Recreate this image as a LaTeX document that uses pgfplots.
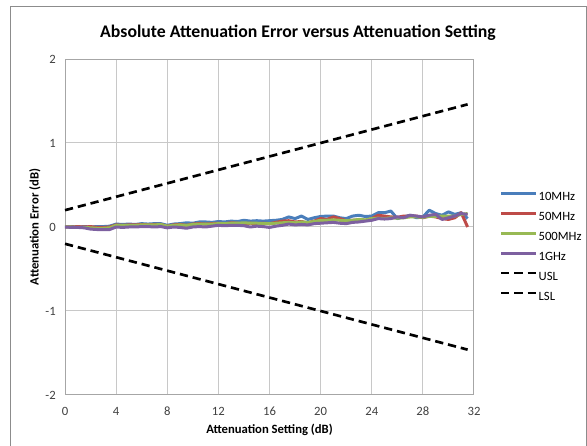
\documentclass[border=0pt]{standalone}
\usepackage{fontspec}
\setmainfont{Carlito}
\usepackage{pgfplots}
\usepackage{pgfplotstable}
\pgfplotsset{compat=1.18}

\definecolor{cten}{HTML}{4A7EBB}
\definecolor{cfifty}{HTML}{BE4B48}
\definecolor{cfive}{HTML}{98B954}
\definecolor{cone}{HTML}{7D60A0}
\definecolor{gridgray}{HTML}{C8C8C8}
\definecolor{axisgray}{HTML}{A6A6A6}
\definecolor{framegray}{HTML}{8C8C8C}
\definecolor{ticktext}{HTML}{404040}

% attenuation setting (dB) vs error (dB) at each frequency
\pgfplotstableread{
x    ten    fifty  five   one
0    0      0      0      0
0.5  0.005  0      0      -0.005
1    0      0.005  -0.005 -0.005
1.5  0.005  0      -0.005 -0.01
2    0      0.005  -0.01  -0.025
2.5  0.005  -0.005 -0.015 -0.03
3    0.005  -0.005 -0.015 -0.03
3.5  0.01   0      -0.01  -0.03
4    0.035  0.025  0.02   0
4.5  0.03   0.02   0.02   -0.005
5    0.035  0.025  0.02   0
5.5  0.03   0.025  0.02   0
6    0.04   0.03   0.025  0.005
6.5  0.035  0.025  0.025  0.005
7    0.04   0.03   0.025  0
7.5  0.04   0.03   0.03   0.005
8    0.02   0.01   0.01   -0.01
8.5  0.035  0.025  0.02   0
9    0.04   0.03   0.025  -0.005
9.5  0.05   0.02   0.02   -0.015
10   0.045  0.035  0.03   0
10.5 0.06   0.04   0.035  0.005
11   0.06   0.035  0.035  0
11.5 0.055  0.04   0.035  0.01
12   0.065  0.045  0.04   0.02
12.5 0.06   0.04   0.04   0.015
13   0.07   0.05   0.045  0.02
13.5 0.065  0.045  0.045  0.02
14   0.08   0.04   0.05   0.015
14.5 0.07   0.045  0.045  0
15   0.075  0.04   0.045  0.01
15.5 0.07   0.045  0.04   0.005
16   0.075  0.04   0.04   -0.005
16.5 0.08   0.055  0.045  0.01
17   0.09   0.07   0.05   0.02
17.5 0.12   0.075  0.055  0.035
18   0.1    0.06   0.05   0.025
18.5 0.13   0.065  0.06   0.03
19   0.09   0.05   0.055  0.025
19.5 0.11   0.07   0.065  0.04
20   0.125  0.1    0.08   0.045
20.5 0.13   0.09   0.08   0.05
21   0.13   0.12   0.085  0.055
21.5 0.11   0.1    0.08   0.045
22   0.1    0.075  0.075  0.04
22.5 0.13   0.08   0.08   0.055
23   0.14   0.085  0.09   0.06
23.5 0.125  0.08   0.085  0.07
24   0.13   0.1    0.1    0.08
24.5 0.17   0.14   0.105  0.1
25   0.17   0.13   0.1    0.095
25.5 0.19   0.12   0.11   0.1
26   0.1    0.115  0.105  0.12
26.5 0.12   0.13   0.11   0.11
27   0.14   0.13   0.12   0.14
27.5 0.11   0.13   0.12   0.13
28   0.12   0.11   0.115  0.12
28.5 0.2    0.13   0.125  0.14
29   0.16   0.12   0.125  0.15
29.5 0.14   0.1    0.13   0.09
30   0.18   0.09   0.13   0.11
30.5 0.15   0.11   0.13   0.13
31   0.17   0.17   0.15   0.16
31.5 0.1    0      0.16   0.15
}\errdata

\begin{document}
\begin{tikzpicture}[x=0.75pt,y=0.75pt]
\path[use as bounding box] (0,0) rectangle (587,446);
\draw[framegray, line width=0.75pt] (10,-5) -- (10,439) -- (586,439) -- (586,-5);
\node[font=\bfseries\fontsize{13.3}{16}\selectfont, text=black] at (298,413) {Absolute Attenuation Error versus Attenuation Setting};
\node[font=\bfseries\fontsize{9.5}{11}\selectfont, rotate=90] at (35,219) {Attenuation Error (dB)};
\node[font=\bfseries\fontsize{9.5}{11}\selectfont] at (269.5,16) {Attenuation Setting (dB)};

\begin{axis}[
    at={(48.75pt,38.25pt)}, anchor=south west,
    scale only axis,
    width=306.75pt, height=252pt,
    xmin=0, xmax=32,
    ymin=-2, ymax=2,
    xtick={0,4,...,32},
    ytick={-2,-1,0,1,2},
    grid=major,
    grid style={gridgray, line width=0.75pt},
    axis line style={axisgray, line width=0.75pt},
    major tick length=0pt,
    tick label style={font=\fontsize{9.5}{11}\selectfont, text=ticktext},
    /pgf/number format/assume math mode=true,
    xticklabel style={anchor=center, yshift=-12pt},
    yticklabel style={anchor=east, inner sep=0pt, xshift=-6.75pt},
    clip=false,
    legend style={at={(axis description cs:1.062,0.44)}, anchor=west,
        draw=none, fill=none, inner sep=0pt, row sep=6.4pt,
        font=\fontsize{9.5}{11}\selectfont,
        nodes={inner sep=0pt, inner xsep=1pt, text height=6.8pt, text depth=1.8pt}},
    legend cell align=left,
    legend image code/.code={\draw[#1] (0pt,3pt) -- (26pt,3pt);},
]
\addplot[cten, line width=2.25pt, line join=round] table[x=x, y=ten] {\errdata};
\addlegendentry{10MHz}
\addplot[cfifty, line width=2.25pt, line join=round] table[x=x, y=fifty] {\errdata};
\addlegendentry{50MHz}
\addplot[cfive, line width=2.25pt, line join=round] table[x=x, y=five] {\errdata};
\addlegendentry{500MHz}
\addplot[cone, line width=2.25pt, line join=round] table[x=x, y=one] {\errdata};
\addlegendentry{1GHz}
\addplot[black, line width=2pt, dash pattern=on 6.2pt off 3.7pt] coordinates {(0,0.2) (31.5,1.46)};
\addlegendentry{USL}
\addplot[black, line width=2pt, dash pattern=on 6.2pt off 3.7pt] coordinates {(0,-0.2) (31.5,-1.46)};
\addlegendentry{LSL}
\end{axis}
\end{tikzpicture}
\end{document}
